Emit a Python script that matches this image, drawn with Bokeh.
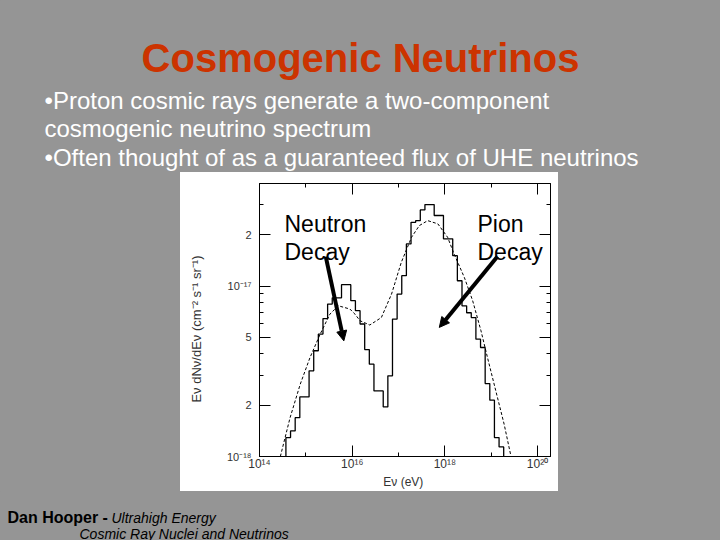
from bokeh.plotting import figure
from bokeh.layouts import column, row
from bokeh.models import (Range1d, FixedTicker, CustomJSTickFormatter, LogAxis, Label,
                          Arrow, NormalHead, Spacer)
from bokeh.embed import file_html
from bokeh.resources import INLINE

# ---------------- data ----------------
# histogram: lower bin edges (log10 E/eV) and flux values (log10 of E dN/dE)
hist_log_edges = [14.57, 14.67, 14.77, 14.87, 14.97, 15.07, 15.17, 15.27, 15.37, 15.47,
                  15.57, 15.67, 15.77, 15.87, 15.97, 16.07, 16.17, 16.27, 16.37, 16.47,
                  16.57, 16.67, 16.77, 16.87, 16.97, 17.07, 17.17, 17.27, 17.37, 17.47,
                  17.57, 17.67, 17.77, 17.87, 17.97, 18.07, 18.17, 18.27, 18.37, 18.47,
                  18.57, 18.67, 18.77, 18.87, 18.97, 19.07, 19.17]
hist_last_edge = 19.27
hist_log_flux = [-17.889, -17.850, -17.772, -17.650, -17.650, -17.497, -17.379, -17.281, -17.190, -17.105,
                 -17.068, -17.068, -16.991, -16.991, -17.085, -17.144, -17.222, -17.372, -17.458, -17.615,
                 -17.615, -17.709, -17.526, -17.193, -17.046, -16.938, -16.752, -16.625, -16.615, -16.552,
                 -16.521, -16.521, -16.585, -16.585, -16.722, -16.722, -16.821, -16.968, -17.115, -17.156,
                 -17.184, -17.311, -17.360, -17.572, -17.669, -17.889, -17.944]

# smooth (dashed) analytic spectrum
curve_log_e = [14.45, 14.66, 14.88, 15.09, 15.31, 15.52, 15.70, 15.95, 16.06, 16.17,
               16.38, 16.63, 16.85, 17.06, 17.28, 17.45, 17.63, 17.85, 18.06, 18.20,
               18.42, 18.60, 18.78, 18.92, 19.10, 19.28, 19.42]
curve_log_flux = [-18.00, -17.772, -17.575, -17.419, -17.281, -17.164, -17.115, -17.134, -17.164, -17.203,
                  -17.228, -17.184, -17.046, -16.860, -16.713, -16.644, -16.615, -16.634, -16.713, -16.811,
                  -16.948, -17.085, -17.262, -17.419, -17.615, -17.811, -17.990]

x_major_ticks = [1e14, 1e16, 1e18, 1e20]
x_minor_ticks = [1e15, 1e17, 1e19]
y_major_ticks = [1e-18, 2e-18, 5e-18, 1e-17, 2e-17]
y_minor_ticks = [3e-18, 4e-18, 6e-18, 7e-18, 8e-18, 9e-18, 3e-17]

# arrows: (log10 E start, log10 flux start, log10 E end, log10 flux end)
neutron_arrow = [15.43, -16.826, 15.82, -17.321]
pion_arrow = [19.135, -16.826, 17.88, -17.242]

title_text = "Cosmogenic Neutrinos"
bullet_lines = ["\u2022Proton cosmic rays generate a two-component",
                "cosmogenic neutrino spectrum",
                "\u2022Often thought of as a guaranteed flux of UHE neutrinos"]
credit_bold = "Dan Hooper -"
credit_italic = ["Ultrahigh Energy", "Cosmic Ray Nuclei and Neutrinos"]

GREY = "#959595"
FONT = "Liberation Sans"
BG = {"background-color": GREY}


def blank_fig(w, h, y0, y1):
    f = figure(width=w, height=h, x_range=Range1d(0, w), y_range=Range1d(y1, y0),
               x_axis_location=None, y_axis_location=None,
               output_backend="svg", toolbar_location=None,
               min_border=0, min_border_left=0, min_border_right=0,
               min_border_top=0, min_border_bottom=0, styles=BG)
    f.border_fill_color = GREY
    f.background_fill_color = GREY
    f.outline_line_color = None
    f.grid.visible = False
    return f


def lab(fig, text, x, y, size, color="black", style="normal", align="left"):
    fig.add_layout(Label(text=text, x=x, y=y,
                         text_font=FONT, text_font_size=size, text_color=color,
                         text_font_style=style, text_align=align,
                         text_baseline="alphabetic"))


# ---------------- top part of the slide: title and bullets ----------------
top = blank_fig(720, 172, 0, 172)
lab(top, title_text, 360, 57, "40px", color="#cc3300", style="bold", align="center")
lab(top, bullet_lines[0], 44, 100, "24px", color="white")
lab(top, bullet_lines[1], 44, 128, "24px", color="white")
lab(top, bullet_lines[2], 44, 157, "24px", color="white")

# ---------------- bottom part: credit ----------------
bottom = blank_fig(720, 49, 491, 540)
lab(bottom, credit_bold, 7, 517, "16px", style="bold")
lab(bottom, credit_italic[0], 111, 517, "14px", style="italic")
lab(bottom, credit_italic[1], 79, 533, "14px", style="italic")

left_pad = Spacer(width=180, height=319, styles=BG)
right_pad = Spacer(width=162, height=319, styles=BG)

# ---------------- the chart ----------------
p = figure(width=378, height=319, x_axis_type="log", y_axis_type="log",
           x_range=Range1d(1e14, 10 ** 20.28),
           y_range=Range1d(1e-18, 10 ** -16.397),
           output_backend="svg", toolbar_location=None,
           min_border_left=79, min_border_right=8,
           min_border_top=11, min_border_bottom=35,
           styles={"background-color": "white"})
p.border_fill_color = "white"
p.background_fill_color = "white"
p.outline_line_color = "black"
p.outline_line_width = 1
p.grid.visible = False

fmt_code = """
const sup = {"0":"\u2070","1":"\u00b9","2":"\u00b2","3":"\u00b3","4":"\u2074","5":"\u2075",
             "6":"\u2076","7":"\u2077","8":"\u2078","9":"\u2079","-":"\u207b"};
const e = Math.log10(tick);
const r = Math.round(e);
if (Math.abs(e - r) < 1e-6) {
  return "10" + String(r).split("").map(c => sup[c]).join("");
}
return String(Math.round(tick / Math.pow(10, Math.floor(e + 1e-9))));
"""
blank_fmt = CustomJSTickFormatter(code="return '';")

xt = FixedTicker(ticks=x_major_ticks, minor_ticks=x_minor_ticks)
yt = FixedTicker(ticks=y_major_ticks, minor_ticks=y_minor_ticks)

xax = p.xaxis[0]
yax = p.yaxis[0]
xax.ticker = xt
yax.ticker = yt
xax.formatter = CustomJSTickFormatter(code=fmt_code)
yax.formatter = CustomJSTickFormatter(code=fmt_code)

top_ax = LogAxis(ticker=xt, formatter=blank_fmt)
right_ax = LogAxis(ticker=yt, formatter=blank_fmt)
p.add_layout(top_ax, "above")
p.add_layout(right_ax, "right")

for ax in (xax, yax, top_ax, right_ax):
    ax.axis_line_color = "black"
    ax.major_tick_line_color = "black"
    ax.minor_tick_line_color = "black"
    ax.major_tick_in = 11
    ax.major_tick_out = 0
    ax.minor_tick_in = 4
    ax.minor_tick_out = 0
    ax.major_label_text_font = FONT
    ax.major_label_text_font_size = "11px"
    ax.major_label_text_color = "#333333"
for ax in (top_ax, right_ax):
    ax.major_label_text_font_size = "1px"
    ax.major_label_standoff = 0

xax.major_label_text_font_size = "12px"
xax.major_label_standoff = 0
yax.major_label_standoff = 8
xax.axis_label = "E\u03bd  (eV)"
yax.axis_label = "E\u03bd  dN\u03bd/dE\u03bd   (cm\u207b\u00b2  s\u207b\u00b9  sr\u207b\u00b9)"
for ax in (xax, yax):
    ax.axis_label_text_font = FONT
    ax.axis_label_text_font_style = "normal"
    ax.axis_label_text_color = "#333333"
xax.axis_label_text_font_size = "12px"
yax.axis_label_text_font_size = "13px"
xax.axis_label_standoff = 1
yax.axis_label_standoff = 20

baseline = 1e-19
hx = [10 ** hist_log_edges[0]] + [10 ** v for v in hist_log_edges] + [10 ** hist_last_edge]
hy = [baseline] + [10 ** v for v in hist_log_flux] + [baseline]
p.step(x=hx, y=hy, mode="after", line_color="black", line_width=1.3)

p.line(x=[10 ** v for v in curve_log_e], y=[10 ** v for v in curve_log_flux],
       line_color="black", line_width=1.0, line_dash="3 2")

for a in (neutron_arrow, pion_arrow):
    p.add_layout(Arrow(end=NormalHead(size=10, fill_color="black", line_color="black"),
                       x_start=10 ** a[0], y_start=10 ** a[1],
                       x_end=10 ** a[2], y_end=10 ** a[3],
                       line_color="black", line_width=4))

# annotation texts inside the chart, placed in pixel offsets from the chart's top-left
def clab(text, x, y):
    p.add_layout(Label(text=text, x=x, y=y, x_units="canvas", y_units="canvas",
                       text_font=FONT, text_font_size="23px", text_color="black",
                       text_baseline="alphabetic"))

clab("Neutron", 104, 51)
clab("Decay", 104, 79)
clab("Pion", 297, 51)
clab("Decay", 297, 79)

mid = row(left_pad, p, right_pad, styles=BG)
layout = column(top, mid, bottom, styles=BG)
open("out.html", "w").write(file_html(layout, INLINE))
